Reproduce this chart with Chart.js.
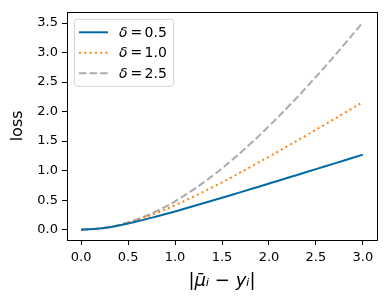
<!DOCTYPE html>
<html>
<head>
<meta charset="utf-8">
<script src="https://cdn.jsdelivr.net/npm/chart.js@4/dist/chart.umd.min.js"></script>
<style>
  html, body { margin: 0; padding: 0; background: #fff; }
  #wrap { width: 387px; height: 305px; }
</style>
</head>
<body>
<div id="wrap"><canvas id="loss-chart" width="387" height="305"></canvas></div>
<script>
// values
const xValues = [0, 0.2, 0.4, 0.6, 0.8, 1.0, 1.2, 1.4, 1.6, 1.8, 2.0, 2.2, 2.4, 2.6, 2.8, 3.0]
const lossDelta05 = [0, 0.019, 0.070, 0.141, 0.222, 0.309, 0.400, 0.493, 0.588, 0.684, 0.781, 0.878, 0.976, 1.074, 1.172, 1.271]
const lossDelta10 = [0, 0.020, 0.077, 0.166, 0.281, 0.414, 0.562, 0.720, 0.887, 1.059, 1.236, 1.417, 1.600, 1.786, 1.973, 2.162]
const lossDelta25 = [0, 0.020, 0.080, 0.178, 0.312, 0.481, 0.683, 0.913, 1.170, 1.452, 1.754, 2.075, 2.414, 2.767, 3.134, 3.513]
const deltaLabels = ['0.5', '1.0', '2.5']
const xTicks = [0, 0.5, 1.0, 1.5, 2.0, 2.5, 3.0]
const yTicks = [0, 0.5, 1.0, 1.5, 2.0, 2.5, 3.0, 3.5]

const toPoints = (ys) => xValues.map((x, i) => ({ x: x, y: ys[i] }))

const FONT = "'DejaVu Sans', sans-serif"

// box around the plot area (matplotlib style spines)
const frame = {
    id: 'frame',
    afterDraw(chart) {
        const { ctx, chartArea: a } = chart
        ctx.save()
        ctx.strokeStyle = '#000'
        ctx.lineWidth = 1
        ctx.strokeRect(Math.round(a.left) + 0.5, Math.round(a.top) + 0.5,
            Math.round(a.right - a.left), Math.round(a.bottom - a.top))
        ctx.restore()
    }
}

// legend drawn inside the plot, upper left
const innerLegend = {
    id: 'innerLegend',
    afterDraw(chart) {
        const { ctx, chartArea: a } = chart
        const x0 = a.left + 7, y0 = a.top + 7
        const w = 99, h = 67
        ctx.save()
        ctx.fillStyle = 'rgba(255,255,255,0.8)'
        ctx.strokeStyle = '#d6d6d6'
        ctx.lineWidth = 1
        ctx.beginPath()
        ctx.roundRect(x0 + 0.5, y0 + 0.5, w, h, 3)
        ctx.fill()
        ctx.stroke()
        chart.data.datasets.forEach((ds, i) => {
            const yy = y0 + 13.5 + i * 20.5
            ctx.beginPath()
            ctx.strokeStyle = ds.borderColor
            ctx.lineWidth = ds.borderWidth
            ctx.setLineDash(ds.borderDash || [])
            ctx.moveTo(x0 + 5, yy)
            ctx.lineTo(x0 + 34, yy)
            ctx.stroke()
            ctx.setLineDash([])
            ctx.fillStyle = '#000'
            ctx.textBaseline = 'middle'
            ctx.font = 'italic 14px ' + FONT
            ctx.fillText('δ', x0 + 45, yy + 1)
            const dw = ctx.measureText('δ').width
            ctx.font = '14px ' + FONT
            ctx.fillText('=', x0 + 45 + dw + 3, yy + 1)
            ctx.fillText(deltaLabels[i], x0 + 45 + dw + 17, yy + 1)
        })
        ctx.restore()
    }
}

const ctx = document.getElementById('loss-chart').getContext('2d')
const lossChart = new Chart(ctx, {
    type: 'line',
    data: {
        datasets: [{
            label: 'δ = ' + deltaLabels[0],
            data: toPoints(lossDelta05),
            borderColor: '#006BA4',
            borderWidth: 2,
            pointRadius: 0,
            tension: 0.4,
            fill: false
        }, {
            label: 'δ = ' + deltaLabels[1],
            data: toPoints(lossDelta10),
            borderColor: '#FF800E',
            borderWidth: 2,
            borderDash: [2, 3.3],
            pointRadius: 0,
            tension: 0.4,
            fill: false
        }, {
            label: 'δ = ' + deltaLabels[2],
            data: toPoints(lossDelta25),
            borderColor: '#ABABAB',
            borderWidth: 2,
            borderDash: [7.4, 3.2],
            pointRadius: 0,
            tension: 0.4,
            fill: false
        }]
    },
    options: {
        responsive: false,
        animation: false,
        layout: { padding: { left: 8, right: 10, top: 9, bottom: 13 } },
        plugins: {
            legend: { display: false },
            tooltip: { enabled: false }
        },
        scales: {
            x: {
                type: 'linear',
                min: -0.15,
                max: 3.15,
                afterBuildTicks: (axis) => { axis.ticks = xTicks.map(v => ({ value: v })) },
                afterFit: (axis) => { axis.height = 52 },
                grid: { display: true, drawOnChartArea: false, drawTicks: true, tickLength: 5, color: '#000' },
                border: { display: false },
                ticks: {
                    color: '#000',
                    padding: 5,
                    maxRotation: 0,
                    font: { family: FONT, size: 13 },
                    callback: (v) => v.toFixed(1)
                },
                title: {
                    display: true,
                    text: '|μ̄ᵢ − yᵢ|',
                    color: '#000',
                    padding: { top: 0, bottom: 0 },
                    font: { family: FONT, size: 18, style: 'italic' }
                }
            },
            y: {
                type: 'linear',
                min: -0.175,
                max: 3.69,
                afterBuildTicks: (axis) => { axis.ticks = yTicks.map(v => ({ value: v })) },
                afterFit: (axis) => { axis.width = 59 },
                grid: { display: true, drawOnChartArea: false, drawTicks: true, tickLength: 5, color: '#000' },
                border: { display: false },
                ticks: {
                    color: '#000',
                    padding: 4,
                    font: { family: FONT, size: 13 },
                    callback: (v) => v.toFixed(1)
                },
                title: {
                    display: true,
                    text: 'loss',
                    color: '#000',
                    padding: { top: 0, bottom: 0 },
                    font: { family: FONT, size: 16 }
                }
            }
        }
    },
    plugins: [frame, innerLegend]
})
</script>
</body>
</html>
